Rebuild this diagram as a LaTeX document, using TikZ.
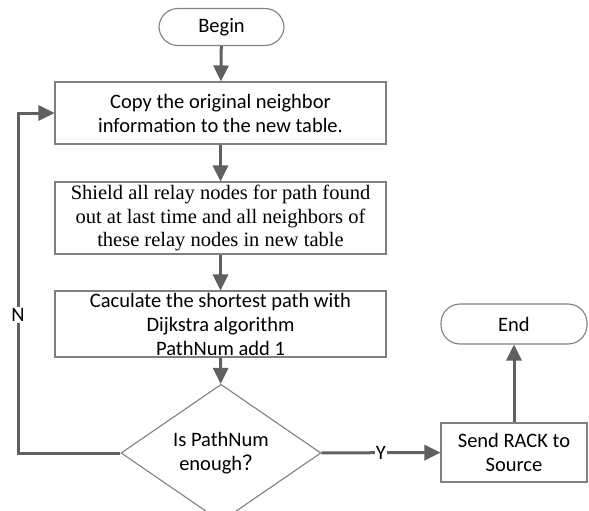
\documentclass[tikz,border=0pt]{standalone}
\usepackage{fontspec}
\setmainfont{Carlito}
\newfontfamily\timesfont{Liberation Serif}
\newfontfamily\cjkfont{Noto Sans CJK SC}
\usetikzlibrary{shapes.geometric,arrows.meta}
\definecolor{linegray}{RGB}{128,128,128}
\definecolor{arrowgray}{RGB}{96,96,96}

\begin{document}
\begin{tikzpicture}[x=1pt,y=-1pt,
  box/.style={draw=linegray,line width=1.1pt,fill=white,align=center,inner sep=0pt,font=\fontsize{20.5}{24}\selectfont},
  term/.style={box,rounded corners=19pt},
  dec/.style={box,diamond},
  arr/.style={draw=arrowgray,line width=3pt,-{Triangle[length=16pt,width=15pt]}},
  lbl/.style={fill=white,inner sep=1pt,font=\fontsize{20.5}{24}\selectfont}]
\useasboundingbox (0,0) rectangle (589,511);
% boxes
\node[term,minimum width=125pt,minimum height=37pt] (begin) at (221.5,27) {Begin};
\node[box,minimum width=331pt,minimum height=62pt] (copy) at (220.5,113) {Copy the original neighbor\\information to the new table.};
\node[box,minimum width=331pt,minimum height=72pt,font=\timesfont\fontsize{20.5}{23.5}\selectfont] (shield) at (220.5,218) {Shield all relay nodes for path found\\out at last time and all neighbors of\\these relay nodes in new table};
\node[box,minimum width=331pt,minimum height=66pt] (calc) at (220.5,324) {Caculate the shortest path with\\Dijkstra algorithm\\PathNum add 1};
\node[dec,minimum width=200pt,minimum height=113pt] (enough) at (221,453) {Is PathNum\\enough{\cjkfont ？}};
\node[box,minimum width=146pt,minimum height=59pt] (send) at (514,452.5) {Send RACK to\\Source};
\node[term,minimum width=146pt,minimum height=40pt] (end) at (514,324) {End};
\coordinate (corner) at (18,453);
% arrows
\draw[arr] (begin) -- (copy);
\draw[arr] (copy) -- (shield);
\draw[arr] (shield) -- (calc);
\draw[arr] (calc) -- (enough);
\draw[arr] (enough) -- node[lbl] (y) {Y} (send);
\draw[arr] (send) -- (end);
\draw[arr] (enough.west) -- (corner) |- (copy.west);
\node[lbl] (n) at (18,315) {N};
\end{tikzpicture}
\end{document}
